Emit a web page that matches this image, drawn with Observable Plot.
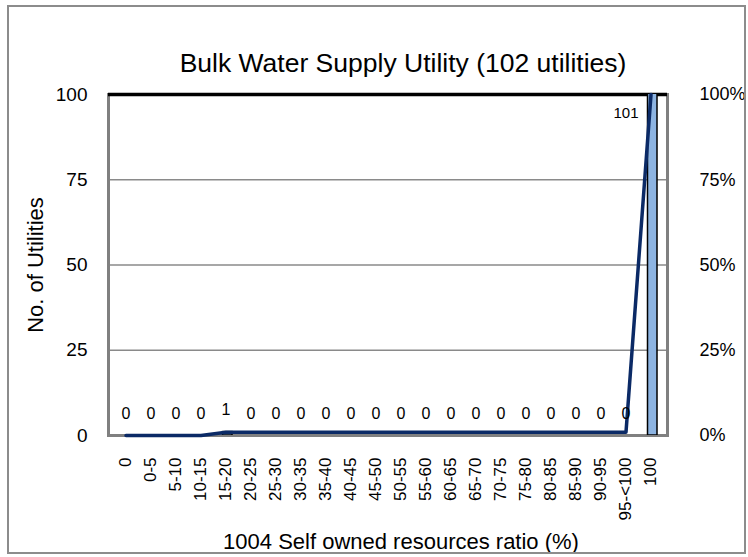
<!DOCTYPE html>
<html>
<head>
<meta charset="utf-8">
<script src="https://cdn.jsdelivr.net/npm/d3@7"></script>
<script src="https://cdn.jsdelivr.net/npm/@observablehq/plot@0.6"></script>
<style>
  html, body { margin: 0; padding: 0; background: #fff; }
  #wrap { position: relative; width: 748px; height: 557px; overflow: hidden; }
  #border { position: absolute; left: 7px; top: 5px; width: 735px; height: 545px; border: 2px solid #8c8c8c; pointer-events: none; }
  #chart { position: absolute; left: 0; top: 0; }
</style>
</head>
<body>
<div id="wrap">
  <div id="chart"></div>
  <div id="border"></div>
</div>
<script>
const titleText = "Bulk Water Supply Utility (102 utilities)";
const yLabel = "No. of Utilities";
const xLabel = "1004 Self owned resources ratio (%)";

const categories = ["0", "0-5", "5-10", "10-15", "15-20", "20-25", "25-30", "30-35", "35-40", "40-45",
  "45-50", "50-55", "55-60", "60-65", "65-70", "70-75", "75-80", "80-85", "85-90", "90-95", "95-<100", "100"];
const counts = [0, 0, 0, 0, 1, 0, 0, 0, 0, 0, 0, 0, 0, 0, 0, 0, 0, 0, 0, 0, 0, 101];
const cumulativePct = [0, 0, 0, 0, 0.98, 0.98, 0.98, 0.98, 0.98, 0.98, 0.98, 0.98, 0.98, 0.98, 0.98,
  0.98, 0.98, 0.98, 0.98, 0.98, 0.98, 100];
const yTicks = [0, 25, 50, 75, 100];
const yTickPct = ["0%", "25%", "50%", "75%", "100%"];

const data = categories.map((c, i) => ({cat: c, count: counts[i], cum: cumulativePct[i]}));
const font = "'Liberation Sans', Arial, sans-serif";

const chart = Plot.plot({
  width: 748,
  height: 557,
  marginLeft: 108,
  marginRight: 81,
  marginTop: 94,
  marginBottom: 122,
  style: {fontFamily: font, background: "transparent", color: "#000", overflow: "visible"},
  x: {domain: categories, padding: 0, axis: null},
  y: {domain: [0, 100], axis: null},
  marks: [
    Plot.gridY(yTicks.filter(t => t > 0 && t < 100), {stroke: "#8a8a8a", strokeOpacity: 1, strokeWidth: 1.5}),
    Plot.frame({stroke: "#808080", strokeWidth: 3}),
    Plot.ruleY([100], {stroke: "#000", strokeWidth: 3.5}),
    Plot.barY(data, {x: "cat", y: "count", fill: "#8DB4E2", stroke: "#000", strokeWidth: 1.5,
      insetLeft: 9.5, insetRight: 6, clip: true}),
    Plot.lineY(data, {x: "cat", y: "cum", stroke: "#0B2A66", strokeWidth: 3.5}),
    Plot.text(data.filter(d => d.count <= 100), {x: "cat", y: "count", text: d => String(d.count),
      dy: -22, fontSize: 16, lineAnchor: "middle", fill: "#000"}),
    Plot.text(data.filter(d => d.count > 100), {x: "cat", frameAnchor: "top", text: d => String(d.count),
      dx: -25, dy: 19, fontSize: 15, lineAnchor: "middle", textAnchor: "middle", fill: "#000"}),
    Plot.axisY(yTicks, {anchor: "left", tickSize: 0, tickPadding: 21, fontSize: 19, label: null}),
    Plot.axisY(yTicks, {anchor: "right", tickSize: 0, tickPadding: 32, fontSize: 18, label: null,
      tickFormat: d => yTickPct[yTicks.indexOf(d)]}),
    Plot.axisX(categories, {anchor: "bottom", tickRotate: -90, tickSize: 0, tickPadding: 22, fontSize: 17, label: null}),
    Plot.text([titleText], {frameAnchor: "top", dx: 15, dy: -31, fontSize: 26.5, lineAnchor: "middle", textAnchor: "middle"}),
    Plot.text([yLabel], {frameAnchor: "left", dx: -73, rotate: -90, fontSize: 22, lineAnchor: "middle", textAnchor: "middle"}),
    Plot.text([xLabel], {frameAnchor: "bottom", dx: 13, dy: 106, fontSize: 22, lineAnchor: "middle", textAnchor: "middle"})
  ]
});
document.getElementById("chart").appendChild(chart);
</script>
</body>
</html>
